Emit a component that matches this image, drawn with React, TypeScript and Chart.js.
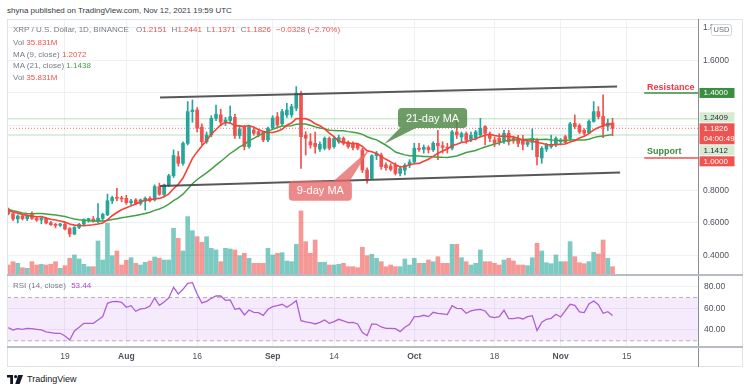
import React, { useEffect, useRef } from 'react';
import { Chart, registerables } from 'chart.js';

Chart.register(...registerables);

const FONT = "'Liberation Sans', Arial, sans-serif";

// Day index: 0 = 2021-07-01. First visible candle = Jul 7 (day 6), last = Nov 12 (day 134)
const FIRST_DAY = 6;

// Daily closes Jun 17 – Jul 6 (only used to warm up the moving averages)
const priorCloses = [0.80, 0.79, 0.76, 0.71, 0.66, 0.60, 0.64, 0.66, 0.66, 0.65,
  0.67, 0.68, 0.70, 0.71, 0.69, 0.70, 0.67, 0.65, 0.62, 0.685];

const opens = [
  0.686, 0.657, 0.625, 0.643, 0.627, 0.660, 0.628, 0.618, 0.628, 0.602,
  0.592, 0.585, 0.594, 0.566, 0.532, 0.573, 0.592, 0.618, 0.624, 0.610,
  0.628, 0.650, 0.737, 0.756, 0.752, 0.752, 0.725, 0.742, 0.720, 0.735,
  0.752, 0.742, 0.824, 0.776, 0.834, 0.891, 1.008, 0.967, 1.090, 1.285,
  1.295, 1.190, 1.100, 1.142, 1.244, 1.265, 1.220, 1.230, 1.250, 1.138,
  1.193, 1.070, 1.172, 1.162, 1.158, 1.111, 1.187, 1.254, 1.210, 1.265,
  1.265, 1.306, 1.392, 1.141, 1.100, 1.090, 1.055, 1.060, 1.121, 1.070,
  1.100, 1.121, 1.096, 1.090, 1.084, 1.049, 0.926, 0.875, 1.014, 1.018,
  0.957, 0.950, 0.955, 0.905, 0.925, 0.955, 0.975, 1.060, 1.053, 1.065,
  1.050, 1.090, 1.075, 1.065, 1.060, 1.160, 1.130, 1.150, 1.115, 1.125,
  1.142, 1.193, 1.142, 1.111, 1.121, 1.105, 1.152, 1.121, 1.120, 1.110,
  1.084, 1.096, 1.110, 1.000, 1.055, 1.070, 1.084, 1.100, 1.131, 1.120,
  1.213, 1.200, 1.170, 1.155, 1.225, 1.285, 1.255, 1.195, 1.2151];

const highs = [
  0.692, 0.662, 0.650, 0.652, 0.650, 0.668, 0.635, 0.640, 0.635, 0.610,
  0.598, 0.598, 0.598, 0.572, 0.578, 0.598, 0.625, 0.630, 0.640, 0.720,
  0.660, 0.778, 0.765, 0.813, 0.765, 0.770, 0.745, 0.750, 0.748, 0.760,
  0.762, 0.835, 0.845, 0.840, 0.900, 1.050, 1.040, 1.100, 1.347, 1.357,
  1.310, 1.210, 1.160, 1.260, 1.326, 1.300, 1.250, 1.320, 1.270, 1.200,
  1.200, 1.200, 1.190, 1.175, 1.165, 1.190, 1.260, 1.280, 1.300, 1.336,
  1.330, 1.439, 1.410, 1.162, 1.150, 1.160, 1.100, 1.130, 1.130, 1.130,
  1.140, 1.130, 1.105, 1.100, 1.090, 1.060, 0.940, 1.020, 1.040, 1.030,
  0.970, 0.965, 0.970, 0.950, 0.965, 0.990, 1.090, 1.090, 1.080, 1.075,
  1.100, 1.170, 1.100, 1.090, 1.170, 1.250, 1.160, 1.160, 1.160, 1.170,
  1.244, 1.200, 1.160, 1.130, 1.150, 1.170, 1.170, 1.135, 1.140, 1.140,
  1.110, 1.180, 1.120, 1.070, 1.090, 1.140, 1.130, 1.120, 1.140, 1.220,
  1.265, 1.210, 1.180, 1.235, 1.347, 1.316, 1.388, 1.240, 1.2441];

const lows = [
  0.650, 0.615, 0.600, 0.618, 0.615, 0.622, 0.610, 0.595, 0.595, 0.585,
  0.570, 0.578, 0.558, 0.515, 0.528, 0.565, 0.585, 0.605, 0.605, 0.600,
  0.615, 0.645, 0.720, 0.735, 0.730, 0.715, 0.710, 0.712, 0.710, 0.680,
  0.730, 0.735, 0.770, 0.765, 0.825, 0.880, 0.950, 0.955, 1.080, 1.220,
  1.160, 1.080, 1.090, 1.130, 1.230, 1.200, 1.200, 1.210, 1.120, 1.120,
  1.050, 1.060, 1.140, 1.130, 1.100, 1.100, 1.180, 1.190, 1.200, 1.250,
  1.250, 1.290, 0.936, 1.018, 1.060, 1.030, 1.040, 1.050, 1.050, 1.060,
  1.090, 1.080, 1.060, 1.050, 1.050, 0.910, 0.845, 0.870, 0.990, 0.930,
  0.925, 0.920, 0.895, 0.890, 0.895, 0.940, 0.965, 1.040, 1.030, 1.030,
  1.040, 0.990, 1.030, 1.030, 1.050, 1.120, 1.100, 1.090, 1.100, 1.110,
  1.130, 1.080, 1.100, 1.070, 1.080, 1.090, 1.080, 1.090, 1.070, 1.050,
  1.070, 1.050, 0.957, 0.967, 1.040, 1.060, 1.070, 1.080, 1.090, 1.110,
  1.180, 1.150, 1.140, 1.150, 1.220, 1.240, 1.125, 1.170, 1.1371];

const closes = [
  0.657, 0.625, 0.643, 0.627, 0.643, 0.628, 0.618, 0.628, 0.600, 0.590,
  0.585, 0.594, 0.563, 0.532, 0.573, 0.592, 0.621, 0.627, 0.612, 0.630,
  0.653, 0.737, 0.756, 0.752, 0.748, 0.725, 0.735, 0.720, 0.742, 0.752,
  0.740, 0.824, 0.776, 0.834, 0.891, 1.015, 0.967, 1.090, 1.285, 1.295,
  1.183, 1.100, 1.142, 1.244, 1.269, 1.220, 1.234, 1.254, 1.138, 1.176,
  1.070, 1.193, 1.152, 1.142, 1.111, 1.183, 1.246, 1.203, 1.285, 1.295,
  1.316, 1.398, 1.131, 1.121, 1.080, 1.070, 1.084, 1.121, 1.060, 1.121,
  1.125, 1.090, 1.070, 1.064, 1.060, 0.926, 0.875, 1.014, 1.029, 0.947,
  0.940, 0.930, 0.905, 0.935, 0.955, 0.975, 1.060, 1.053, 1.065, 1.050,
  1.090, 1.075, 1.065, 1.060, 1.160, 1.142, 1.150, 1.110, 1.140, 1.160,
  1.183, 1.152, 1.121, 1.090, 1.100, 1.152, 1.100, 1.105, 1.090, 1.084,
  1.096, 1.121, 1.008, 1.059, 1.080, 1.080, 1.120, 1.110, 1.096, 1.210,
  1.193, 1.160, 1.152, 1.225, 1.285, 1.255, 1.195, 1.215, 1.1826];

// Volume, millions
const volumes = [
  43.2, 57.5, 50.5, 31.5, 28.9, 57.5, 43.2, 46.2, 43.2, 46.2,
  57.5, 28.9, 40.2, 72.1, 86.4, 69.1, 46.2, 35.9, 35.9, 146.9,
  64.8, 223.3, 83.4, 103.7, 43.2, 63.5, 74.7, 50.5, 43.2, 54.9,
  60.5, 77.8, 72.1, 64.8, 64.8, 201.7, 158.5, 103.7, 251.9, 191.4,
  165.5, 141.3, 165.5, 115.3, 108.0, 57.5, 115.3, 112.3, 108.0, 83.4,
  93.7, 72.1, 50.5, 50.5, 50.5, 115.3, 86.4, 93.7, 96.3, 60.5,
  57.5, 132.6, 276.5, 143.9, 93.7, 151.2, 54.9, 54.9, 43.2, 43.2,
  46.2, 50.5, 35.9, 35.9, 31.5, 119.7, 83.4, 89.4, 72.1, 57.5,
  35.9, 43.2, 35.9, 35.9, 69.1, 43.2, 72.1, 50.5, 50.5, 64.8,
  57.5, 79.1, 50.5, 50.5, 132.6, 132.6, 74.7, 57.5, 43.2, 50.5,
  108.0, 57.5, 57.5, 50.5, 43.2, 64.8, 72.1, 60.5, 43.2, 43.2,
  40.2, 74.7, 136.9, 103.7, 53.1, 48.8, 86.4, 57.5, 57.5, 143.9,
  79.1, 53.1, 48.8, 57.5, 98.1, 90.7, 151.2, 72.1, 35.831];

const rsiValues = [
  42.15, 40.0, 41.23, 40.62, 41.54, 41.23, 40.62, 40.0, 38.15, 37.54,
  36.92, 36.92, 34.46, 30.77, 39.08, 42.46, 46.15, 46.15, 46.15, 49.23,
  52.31, 64.62, 66.15, 66.46, 65.54, 60.92, 62.46, 57.23, 59.38, 60.0,
  62.15, 69.54, 62.77, 65.85, 69.54, 79.38, 73.23, 77.54, 83.08, 83.69,
  73.23, 64.92, 66.46, 69.23, 71.38, 71.38, 67.38, 67.69, 59.08, 60.0,
  53.85, 58.46, 56.31, 56.0, 53.54, 59.08, 61.54, 62.46, 63.69, 60.92,
  63.69, 67.08, 48.62, 47.38, 46.77, 45.54, 47.08, 49.23, 46.15, 47.69,
  49.85, 48.31, 46.77, 47.08, 45.54, 37.54, 34.77, 45.54, 45.23, 42.77,
  41.54, 41.54, 41.23, 38.46, 42.46, 45.23, 52.31, 52.31, 53.54, 52.31,
  56.31, 55.38, 54.77, 54.15, 62.46, 60.0, 59.69, 55.38, 57.54, 58.46,
  59.08, 57.54, 52.31, 51.38, 52.31, 58.15, 50.46, 50.46, 51.38, 50.15,
  52.31, 53.23, 39.38, 47.08, 49.85, 50.77, 54.46, 52.0, 57.85, 63.69,
  62.77, 56.62, 56.0, 64.0, 66.77, 63.38, 55.38, 56.92, 53.44];

const tickDays = [18, 31, 46, 62, 75, 92, 109, 123, 137];
const tickLabels = ['19', 'Aug', '16', 'Sep', '14', 'Oct', '18', 'Nov', '15'];
const monthLabels = ['Aug', 'Sep', 'Oct', 'Nov'];

const priceTicks = [0.4, 0.6, 0.8, 1.0, 1.2, 1.4, 1.6, 1.8];
const hiddenPriceLabels = [1.0, 1.2, 1.4];
const rsiTicks = [40, 60, 80];

const resistancePrice = 1.4;
const supportPrice = 1.0;
const upperLevel = 1.2409;
const lowerLevel = 1.1412;
const lastPrice = 1.1826;
const countdown = '04:00:49';

// Trend channel drawn on the chart (day, price)
const upperChannel = [{ x: 38.14, y: 1.372 }, { x: 134.96, y: 1.439 }];
const lowerChannel = [{ x: 38.14, y: 0.828 }, { x: 135.6, y: 0.911 }];
const levelStartDay = 140.7;
const levelTextDay = 141.3;

const callouts = [
  { text: '21-day MA', tip: { x: 85.6, y: 1.086 }, box: { x: 95.87, y: 1.246 }, color: 'rgba(84,139,76,0.85)' },
  { text: '9-day MA', tip: { x: 82.6, y: 1.055 }, box: { x: 72.1, y: 0.798 }, color: 'rgba(229,105,105,0.78)' },
];

const XMIN = 5.72;
const XMAX = 152.1;

const UP = '#26a69a';
const DOWN = '#ef5350';
const GRID = '#edf0f5';
const AXIS_TEXT = '#4f525c';

const days = closes.map((_, i) => FIRST_DAY + i);
const isUp = closes.map((c, i) => c >= opens[i]);

function sma(n: number) {
  const all = [...priorCloses, ...closes];
  return closes.map((_, i) => {
    const end = i + priorCloses.length;
    let s = 0;
    for (let k = end - n + 1; k <= end; k++) s += all[k];
    return { x: days[i], y: s / n };
  });
}

function roundRectPath(ctx: CanvasRenderingContext2D, x: number, y: number, w: number, h: number, r: number) {
  ctx.moveTo(x + r, y);
  ctx.lineTo(x + w - r, y);
  ctx.arcTo(x + w, y, x + w, y + r, r);
  ctx.lineTo(x + w, y + h - r);
  ctx.arcTo(x + w, y + h, x + w - r, y + h, r);
  ctx.lineTo(x + r, y + h);
  ctx.arcTo(x, y + h, x, y + h - r, r);
  ctx.lineTo(x, y + r);
  ctx.arcTo(x, y, x + r, y, r);
  ctx.closePath();
}

const overlayPlugin = {
  id: 'overlay',
  afterDraw(chart: any) {
    const { ctx, chartArea } = chart;
    const xs = chart.scales.x;
    const ys = chart.scales.y;
    ctx.save();

    // level captions
    ctx.font = `bold 9px ${FONT}`;
    ctx.textAlign = 'left';
    ctx.textBaseline = 'alphabetic';
    const tx = xs.getPixelForValue(levelTextDay);
    ctx.fillStyle = '#f23645';
    ctx.fillText('Resistance', tx, ys.getPixelForValue(resistancePrice) - 3);
    ctx.fillStyle = '#388e3c';
    ctx.fillText('Support', tx, ys.getPixelForValue(supportPrice) - 3.5);

    // callouts
    ctx.font = `11px ${FONT}`;
    for (const c of callouts) {
      const tipX = xs.getPixelForValue(c.tip.x);
      const tipY = ys.getPixelForValue(c.tip.y);
      const cx = xs.getPixelForValue(c.box.x);
      const cy = ys.getPixelForValue(c.box.y);
      const w = ctx.measureText(c.text).width + 16;
      const h = 20;
      const left = cx - w / 2;
      const top = cy - h / 2;
      const edgeY = tipY > cy ? top + h : top;
      const b1 = tipX < cx ? left + 2 : left + w - 18;
      const b2 = b1 + 16;
      ctx.beginPath();
      roundRectPath(ctx, left, top, w, h, 4);
      ctx.moveTo(b1, edgeY);
      ctx.lineTo(tipX, tipY);
      ctx.lineTo(b2, edgeY);
      ctx.closePath();
      ctx.fillStyle = c.color;
      ctx.fill();
      ctx.fillStyle = '#ffffff';
      ctx.textAlign = 'center';
      ctx.textBaseline = 'middle';
      ctx.fillText(c.text, cx, cy + 0.5);
    }

    // price-axis boxes
    const items: any[] = [
      { v: resistancePrice, lines: [resistancePrice.toFixed(4)], bg: '#3b8e3f', fg: '#ffffff' },
      { v: upperLevel, lines: [upperLevel.toFixed(4)], bg: '#d6ebd2', fg: '#2a2e39' },
      { v: lastPrice, lines: [lastPrice.toFixed(4), countdown], bg: '#ef5350', fg: '#ffffff' },
      { v: lowerLevel, lines: [lowerLevel.toFixed(4)], bg: '#d6ebd2', fg: '#2a2e39' },
      { v: supportPrice, lines: [supportPrice.toFixed(4)], bg: '#f05350', fg: '#ffffff' },
    ];
    const fixed = 2;
    const gap = 1;
    items.forEach((it) => {
      it.h = it.lines.length === 1 ? 10 : 21;
      it.top = ys.getPixelForValue(it.v) - 5;
    });
    for (let i = fixed - 1; i >= 0; i--) {
      const limit = items[i + 1].top - gap;
      if (items[i].top + items[i].h > limit) items[i].top = limit - items[i].h;
    }
    for (let i = fixed + 1; i < items.length; i++) {
      const limit = items[i - 1].top + items[i - 1].h + gap;
      if (items[i].top < limit) items[i].top = limit;
    }
    const bx = chartArea.right + 1.5;
    ctx.font = `8px ${FONT}`;
    ctx.textAlign = 'left';
    ctx.textBaseline = 'middle';
    for (const it of items) {
      ctx.fillStyle = it.bg;
      ctx.fillRect(bx, it.top, 35, it.h);
      ctx.fillStyle = it.fg;
      it.lines.forEach((ln: string, k: number) => ctx.fillText(ln, bx + 4, it.top + 5.2 + k * 10.5));
    }

    // currency box
    ctx.fillStyle = '#ffffff';
    ctx.strokeStyle = '#d1d4dc';
    ctx.lineWidth = 1;
    ctx.beginPath();
    roundRectPath(ctx, chartArea.right + 13.5, 5.5, 20, 11, 2);
    ctx.fill();
    ctx.stroke();
    ctx.fillStyle = '#6a6d78';
    ctx.font = `7.5px ${FONT}`;
    ctx.textAlign = 'center';
    ctx.textBaseline = 'middle';
    ctx.fillText('USD', chartArea.right + 23.5, 11.3);
    ctx.restore();
  },
};

const xScaleBase = (showLabels: boolean) => ({
  type: 'linear',
  min: XMIN,
  max: XMAX,
  offset: false,
  afterBuildTicks: (s: any) => { s.ticks = tickDays.map((v) => ({ value: v })); },
  afterFit: (s: any) => { s.height = showLabels ? 20 : 0; s.paddingLeft = 0; s.paddingRight = 0; },
  grid: { color: GRID, drawTicks: false, offset: false },
  border: { display: false },
  ticks: {
    display: showLabels,
    autoSkip: false,
    maxRotation: 0,
    padding: 5,
    color: AXIS_TEXT,
    callback: (_v: any, i: number) => tickLabels[i],
    font: (c: any) => ({ family: FONT, size: 8.5, weight: monthLabels.includes(tickLabels[c.index]) ? 'bold' : 'normal' }),
  },
});

function lineSet(data: any[], color: string, width: number, order: number, extra: any = {}) {
  return { type: 'line', data, borderColor: color, borderWidth: width, pointRadius: 0, fill: false, order, tension: 0, ...extra };
}

export default function App() {
  const mainRef = useRef<HTMLCanvasElement>(null);
  const rsiRef = useRef<HTMLCanvasElement>(null);

  useEffect(() => {
    const candleColors = isUp.map((u) => (u ? UP : DOWN));
    const volColors = isUp.map((u) => (u ? 'rgba(38,166,154,0.6)' : 'rgba(239,83,80,0.6)'));

    const main = new Chart(mainRef.current as HTMLCanvasElement, {
      type: 'line',
      data: {
        datasets: [
          { type: 'bar', yAxisID: 'vol', data: days.map((d, i) => ({ x: d, y: volumes[i] })), backgroundColor: volColors, barThickness: 4, grouped: false, order: 10 },
          lineSet([{ x: XMIN, y: upperLevel }, { x: XMAX, y: upperLevel }], 'rgba(102,187,106,0.3)', 1.5, 9),
          lineSet([{ x: XMIN, y: lowerLevel }, { x: XMAX, y: lowerLevel }], 'rgba(102,187,106,0.3)', 1.5, 9),
          lineSet([{ x: XMIN, y: lastPrice }, { x: XMAX, y: lastPrice }], 'rgba(239,83,80,0.8)', 1, 8, { borderDash: [1, 2] }),
          { type: 'bar', yAxisID: 'y', data: days.map((d, i) => ({ x: d, y: [lows[i], highs[i]] })), backgroundColor: candleColors, barThickness: 1, grouped: false, order: 5 },
          { type: 'bar', yAxisID: 'y', data: days.map((d, i) => ({ x: d, y: [opens[i], closes[i]] })), backgroundColor: candleColors, barThickness: 3, minBarLength: 1, grouped: false, order: 4 },
          lineSet(sma(21), '#43a047', 1.5, 3),
          lineSet(sma(9), '#f44336', 1.6, 2),
          lineSet(upperChannel, 'rgba(70,70,70,0.9)', 2, 1),
          lineSet(lowerChannel, 'rgba(70,70,70,0.9)', 2, 1),
          lineSet([{ x: levelStartDay, y: resistancePrice }, { x: XMAX, y: resistancePrice }], '#388e3c', 1.5, 1),
          lineSet([{ x: levelStartDay, y: supportPrice }, { x: XMAX, y: supportPrice }], '#ef5350', 1.5, 1),
        ] as any,
      },
      options: {
        responsive: false,
        animation: false,
        devicePixelRatio: 1,
        events: [],
        layout: { padding: 0 },
        plugins: { legend: { display: false }, tooltip: { enabled: false } },
        scales: {
          x: xScaleBase(false) as any,
          y: {
            type: 'linear',
            position: 'right',
            min: 0.28,
            max: 1.855,
            afterBuildTicks: (s: any) => { s.ticks = priceTicks.map((v) => ({ value: v })); },
            afterFit: (s: any) => { s.width = 45; s.paddingTop = 0; s.paddingBottom = 0; },
            grid: { color: GRID, drawTicks: false },
            border: { display: false },
            ticks: {
              padding: 5,
              color: AXIS_TEXT,
              font: { family: FONT, size: 8.5 },
              callback: (v: any) => (hiddenPriceLabels.includes(Number(v)) ? '' : Number(v).toFixed(4)),
            },
          },
          vol: { type: 'linear', display: false, min: 0, max: 1105 },
        },
      },
      plugins: [overlayPlugin],
    } as any);

    const rsi = new Chart(rsiRef.current as HTMLCanvasElement, {
      type: 'line',
      data: {
        datasets: [
          lineSet([{ x: XMIN, y: 70 }, { x: XMAX, y: 70 }], 'rgba(120,123,134,0.55)', 1, 3, { borderDash: [4, 3], fill: { value: 30 }, backgroundColor: 'rgba(178,92,230,0.12)' }),
          lineSet([{ x: XMIN, y: 30 }, { x: XMAX, y: 30 }], 'rgba(120,123,134,0.55)', 1, 2, { borderDash: [4, 3] }),
          lineSet(days.map((d, i) => ({ x: d, y: rsiValues[i] })), '#b05fd3', 1.3, 1),
        ] as any,
      },
      options: {
        responsive: false,
        animation: false,
        devicePixelRatio: 1,
        events: [],
        layout: { padding: 0 },
        plugins: { legend: { display: false }, tooltip: { enabled: false } },
        scales: {
          x: xScaleBase(true) as any,
          y: {
            type: 'linear',
            position: 'right',
            min: 24.27,
            max: 90.75,
            afterBuildTicks: (s: any) => { s.ticks = rsiTicks.map((v) => ({ value: v })); },
            afterFit: (s: any) => { s.width = 45; s.paddingTop = 0; s.paddingBottom = 0; },
            grid: { color: GRID, drawTicks: false },
            border: { display: false },
            ticks: { padding: 6, color: AXIS_TEXT, font: { family: FONT, size: 8.5 }, callback: (v: any) => Number(v).toFixed(2) },
          },
        },
      },
    } as any);

    return () => { main.destroy(); rsi.destroy(); };
  }, []);

  const gray = '#787b86';
  const red = '#ef5350';
  const abs = (s: any) => ({ position: 'absolute' as const, whiteSpace: 'nowrap' as const, fontFamily: FONT, ...s });
  const row = (top: number) => abs({ left: 13, top, fontSize: 8, lineHeight: '12px', color: gray });

  return (
    <div style={{ position: 'absolute', left: 0, top: 0, width: 750, height: 392, background: '#ffffff', overflow: 'hidden' }}>
      <div style={abs({ left: 7, top: 4, fontSize: 8, lineHeight: '13px', color: '#363a45' })}>
        shyna published on TradingView.com, Nov 12, 2021 19:59 UTC
      </div>
      <canvas ref={mainRef} width={736} height={256} style={{ position: 'absolute', left: 7, top: 19, width: 736, height: 256 }} />
      <canvas ref={rsiRef} width={736} height={92} style={{ position: 'absolute', left: 7, top: 275, width: 736, height: 92 }} />

      <div style={row(24)}>
        <span>XRP / U.S. Dollar, 1D, BINANCE</span>
        <span style={{ marginLeft: 7 }}>O<span style={{ color: red }}>1.2151</span></span>
        <span style={{ marginLeft: 5 }}>H<span style={{ color: red }}>1.2441</span></span>
        <span style={{ marginLeft: 5 }}>L<span style={{ color: red }}>1.1371</span></span>
        <span style={{ marginLeft: 5 }}>C<span style={{ color: red }}>1.1826</span></span>
        <span style={{ marginLeft: 5, color: red }}>−0.0328 (−2.70%)</span>
      </div>
      <div style={row(36.5)}>Vol <span style={{ color: red }}>35.831M</span></div>
      <div style={row(48.5)}>MA (9, close) <span style={{ color: red }}>1.2072</span></div>
      <div style={row(60)}>MA (21, close) <span style={{ color: '#43a047' }}>1.1438</span></div>
      <div style={row(71.5)}>Vol <span style={{ color: red }}>35.831M</span></div>
      <div style={row(280)}>RSI (14, close) <span style={{ color: '#ab47bc', marginLeft: 3 }}>53.44</span></div>

      <div style={{ position: 'absolute', left: 7, top: 19, width: 736, height: 348, border: '1px solid #e0e3eb', boxSizing: 'border-box', pointerEvents: 'none' }} />
      <div style={{ position: 'absolute', left: 698, top: 19, width: 1, height: 348, background: '#8a8d96' }} />
      <div style={{ position: 'absolute', left: 7, top: 274, width: 736, height: 2, background: '#b8bbc3' }} />
      <div style={{ position: 'absolute', left: 7, top: 346, width: 736, height: 2, background: '#b8bbc3' }} />

      <svg style={{ position: 'absolute', left: 7, top: 375 }} width={16} height={9} viewBox="0 0 16 9">
        <path d="M0 0 H6 V9 H3.2 V2.6 H0 Z" fill="#131722" />
        <circle cx="8.6" cy="1.6" r="1.6" fill="#131722" />
        <path d="M11.2 0 H16 L12.6 9 H8.2 Z" fill="#131722" />
      </svg>
      <div style={abs({ left: 27, top: 373, fontSize: 9, lineHeight: '13px', color: '#131722' })}>TradingView</div>
    </div>
  );
}
